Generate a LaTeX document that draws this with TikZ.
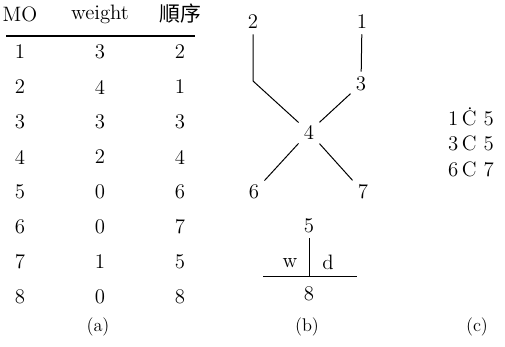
\documentclass[tikz,border=0pt]{standalone}
\usepackage{fontspec}
\newfontfamily\cjk{Noto Sans CJK SC}

\begin{document}
\begin{tikzpicture}[
    x=0.6pt, y=-0.6pt,
    font=\fontsize{12.5}{15}\selectfont,
    cell/.style={inner sep=0pt},
    vtx/.style={inner sep=3pt},
    caption/.style={font=\fontsize{11}{13}\selectfont},
    edge/.style={line width=0.6pt},
]
\useasboundingbox (0,0) rectangle (505,347);

% (a) table header
\node[cell] (hmo) at (20,14) {MO};
\node[cell] (hwt) at (100,14) {weight};
\node[cell] (hord) at (180,14) {\cjk 順序};

% Header rule
\coordinate (rulel) at (6,36);
\coordinate (ruler) at (195,36);
\draw[line width=0.9pt] (rulel) -- (ruler);

% Table rows
\foreach \i/\w/\o [count=\k from 0] in {1/3/2, 2/4/1, 3/3/3, 4/2/4, 5/0/6, 6/0/7, 7/1/5, 8/0/8} {
    \node[cell] (mo\i) at (20,52+35*\k) {\i};
    \node[cell] (wt\i) at (100,52+35*\k) {\w};
    \node[cell] (ord\i) at (180,52+35*\k) {\o};
}
\node[caption] (capa) at (98,327) {(a)};

% (b) tree
\node[vtx] (n2) at (253,22) {2};
\node[vtx] (n1) at (362,22) {1};
\node[vtx] (n3) at (361,84) {3};
\node[vtx] (n4) at (309,132) {4};
\node[vtx] (n6) at (254,192) {6};
\node[vtx] (n7) at (363,192) {7};
\coordinate (bend) at (253,81);

\draw[edge] (n2) -- (bend) -- (n4);
\draw[edge] (n1) -- (n3);
\draw[edge] (n3) -- (n4);
\draw[edge] (n4) -- (n6);
\draw[edge] (n4) -- (n7);

% (b) junction 5 / 8
\node[vtx] (n5) at (309,226) {5};
\node[vtx] (n8) at (309,294) {8};
\coordinate (foot) at (309,277);
\coordinate (barl) at (263,277);
\coordinate (barr) at (357,277);
\draw[edge] (n5) -- (foot);
\draw[edge] (barl) -- (barr);
\node[cell] (w) at (290,263) {w};
\node[cell] (d) at (328,262) {d};
\node[caption] (capb) at (307,327) {(b)};

% (c) list
\node[cell] (c1) at (471,117) {1\,Ċ\,\,5};
\node[cell] (c2) at (471,143) {3\,C\,\,5};
\node[cell] (c3) at (471,169) {6\,C\,\,7};
\node[caption] (capc) at (477,327) {(c)};

\end{tikzpicture}
\end{document}
